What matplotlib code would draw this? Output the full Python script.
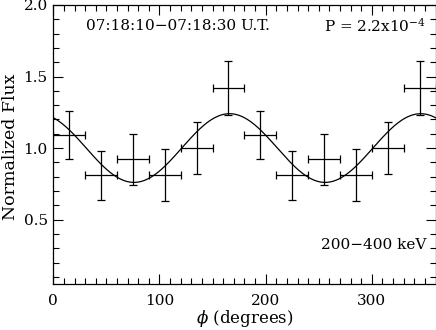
import numpy as np
import matplotlib
matplotlib.use('Agg')
import matplotlib.pyplot as plt
from matplotlib.ticker import MultipleLocator

plt.rcParams['font.family'] = 'DejaVu Serif'
plt.rcParams['mathtext.fontset'] = 'dejavuserif'

# binned polarisation data
phase = [15, 45, 75, 105, 135, 165, 195, 225, 255, 285, 315, 345]
flux = [1.09, 0.81, 0.92, 0.81, 1.00, 1.42, 1.09, 0.81, 0.92, 0.81, 1.00, 1.42]
flux_err = [0.17, 0.17, 0.18, 0.18, 0.18, 0.19, 0.17, 0.17, 0.18, 0.18, 0.18, 0.19]
bin_half = [15] * 12

# fitted modulation curve
fit_mean = 1.0
fit_amp = 0.24
fit_phase = 166.0

fig = plt.figure(figsize=(4.36, 3.30), dpi=100)
ax = fig.add_axes([0.1222, 0.1394, 0.8768, 0.8456])

ax.errorbar(phase, flux, yerr=flux_err, xerr=bin_half, fmt='none',
            ecolor='black', elinewidth=0.9, capsize=3, capthick=0.9)

phi = np.linspace(0, 360, 500)
model = fit_mean * (1 + fit_amp * np.cos(np.radians(2 * (phi - fit_phase))))
ax.plot(phi, model, color='black', linewidth=0.9)

ax.set_xlim(0, 360)
ax.set_ylim(0.05, 2.0)
ax.xaxis.set_major_locator(MultipleLocator(100))
ax.xaxis.set_minor_locator(MultipleLocator(10))
ax.yaxis.set_minor_locator(MultipleLocator(0.1))
ax.set_yticks([0.5, 1.0, 1.5, 2.0])
ax.tick_params(which='both', direction='in', top=True, right=True,
               labelsize=11, width=0.8)
ax.tick_params(which='major', length=7)
ax.tick_params(which='minor', length=4)
ax.tick_params(axis='x', pad=7)
ax.tick_params(axis='y', pad=4)
for s in ax.spines.values():
    s.set_linewidth(0.9)

ax.set_xlabel(r'$\phi$ (degrees)', fontsize=12, labelpad=0)
ax.set_ylabel('Normalized Flux', fontsize=12.5)
ax.yaxis.set_label_coords(-0.09, 0.49)

ax.text(0.085, 0.925, '07:18:10\u221207:18:30 U.T.', transform=ax.transAxes,
        fontsize=11, va='center', ha='left')
ax.text(0.975, 0.925, r'P = 2.2x10$^{-4}$', transform=ax.transAxes,
        fontsize=11, va='center', ha='right')
ax.text(0.975, 0.14, '200\u2212400 keV', transform=ax.transAxes,
        fontsize=11, va='center', ha='right')

fig.savefig('out.png', dpi=100)
